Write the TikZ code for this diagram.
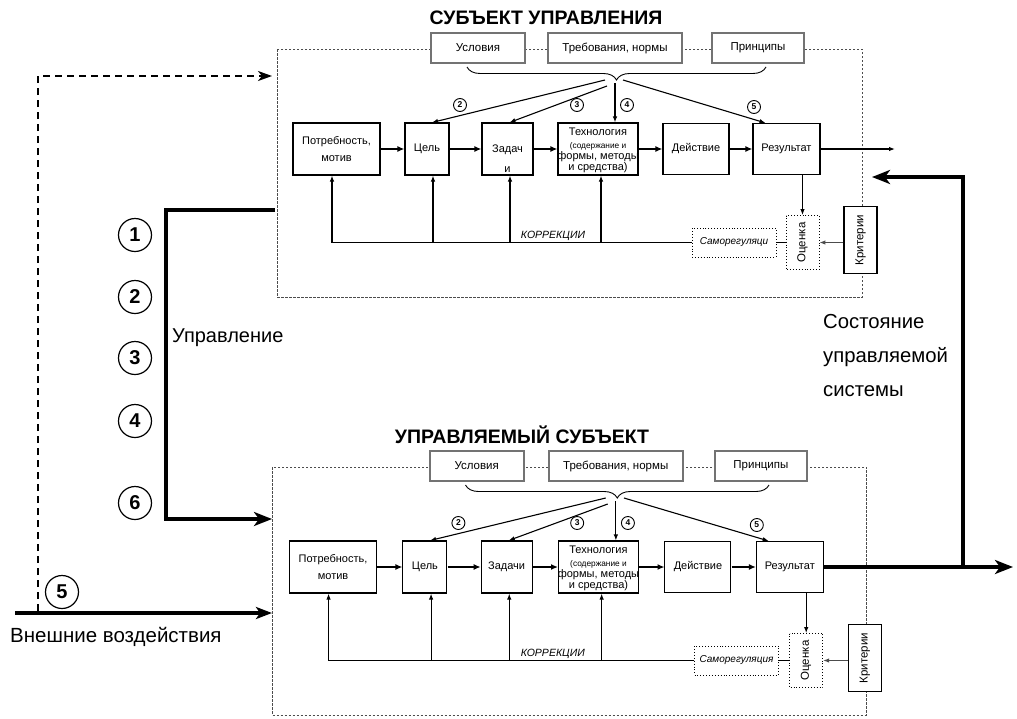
\documentclass[tikz,border=0pt]{standalone}
\usepackage{fontspec}
\setmainfont{Liberation Sans}
\usetikzlibrary{arrows.meta,decorations.pathreplacing,calc}
\newcommand\fsz[1]{\fontsize{#1}{#1}\selectfont}
\tikzset{
 sysframe/.style={draw=black!70, dash pattern=on 2.5pt off 1.5pt, line width=0.8pt},
 normbox/.style={draw=black!55, line width=1.8pt, fill=white, minimum height=30pt, inner sep=0pt, font=\fsz{11.5}},
 blk/.style={draw=black, line width=1.1pt, fill=white, inner sep=1pt, align=center, font=\fsz{11}},
 dotbox/.style={draw=black, dotted, line width=0.9pt, fill=white, inner sep=0pt},
 thickarr/.style={line width=2.6pt, -{Latex[length=7pt,width=6pt]}},
 thinarr/.style={line width=1.1pt, -{Latex[length=6pt,width=4.5pt]}},
 fbline/.style={line width=1.1pt},
 smallnum/.style={circle, draw, line width=0.9pt, inner sep=0pt, minimum size=13pt, font={\fsz{8.5}\bfseries}},
 bignum/.style={circle, draw, line width=1.2pt, inner sep=0pt, minimum size=33pt, font={\fsz{20}\bfseries}},
 bigtxt/.style={font=\fsz{20}, anchor=west, inner sep=0pt},
 heavyarr/.style={line width=4.5pt, line join=miter, -{Stealth[length=18pt,width=14pt,inset=5pt]}},
 dasharr/.style={line width=2pt, dash pattern=on 7pt off 5pt, -{Stealth[length=14pt,width=10pt,inset=4pt]}},
 titletxt/.style={font={\fsz{19.5}\bfseries}},
}
% #1 text of Задачи, #2 its y, #3 text of Саморегуляция
\newcommand\subsys[3]{%
 \draw[sysframe] (277,49) rectangle (862,297);
 \node[normbox, minimum width=94pt] (usl) at (478,48) {Условия};
 \node[normbox, minimum width=134pt] (treb) at (615,48) {Требования, нормы};
 \node[normbox, minimum width=92pt] (princ) at (758,48) {Принципы};
 \draw[line width=0.9pt, decorate, decoration={brace, amplitude=13pt}] (766,67) -- (467,67);
 \node[blk, minimum width=87pt, minimum height=52pt, font={\fontsize{11}{17}\selectfont}] (need) at (336.5,149) {Потребность,\\мотив};
 \node[blk, minimum width=44pt, minimum height=52pt] (goal) at (427,149) {Цель};
 \node[blk, minimum width=51pt, minimum height=52pt] (task) at (507.5,149) {};
 \node[font={\fontsize{11}{20}\selectfont}, align=center, inner sep=0pt] (tasktxt) at (507.5,#2) {#1};
 \node[blk, minimum width=80pt, minimum height=52pt, inner sep=0pt] (tech) at (598,149) {};
 \node[align=center, inner sep=0pt, font=\fsz{11}] (techtxt) at (598,150.5) {Технология\\[2.5pt]\fontsize{8.3}{9.8}\selectfont(содержание и\\формы, методы\\и средства)};
 \node[blk, minimum width=66pt, minimum height=51pt] (act) at (696,149) {Действие};
 \node[blk, minimum width=67pt, minimum height=51pt] (res) at (786.5,149) {Результат};
 \node[dotbox, rotate=90, minimum width=54pt, minimum height=33pt, font=\fsz{11.5}] (eval) at (802.5,242.5) {Оценка};
 \node[blk, rotate=90, minimum width=67pt, minimum height=33pt, font=\fsz{11.5}] (crit) at (860.5,240) {Критерии};
 \node[dotbox, minimum width=84pt, minimum height=29pt, font={\fsz{10}\itshape}] (samo) at (734,242.5) {#3};
 \coordinate (bA) at (605,80);
 \coordinate (bB) at (607,86);
 \coordinate (bC) at (615,83);
 \coordinate (bD) at (623,80);
 \draw[thinarr] (bA) -- ([xshift=5pt]goal.north);
 \draw[thinarr] (bB) -- ([xshift=2pt]task.north);
 \draw[thinarr] (bC) -- (bC |- tech.north);
 \draw[thinarr] (bD) -- ([xshift=-21pt]res.north);
 \node[smallnum] (n2) at (460,105) {2};
 \node[smallnum] (n3) at (577,105) {3};
 \node[smallnum] (n4) at (627,105) {4};
 \node[smallnum] (n5) at (754,107) {5};
 \draw[thickarr] (need) -- (goal);
 \draw[thickarr] (goal) -- (task);
 \draw[thickarr] (task) -- (tech);
 \draw[thickarr] (tech) -- (act);
 \draw[thickarr] (act) -- (res);
 \coordinate (k1) at (332,242.5);
 \coordinate (k2) at (433,242.5);
 \coordinate (k3) at (510,242.5);
 \coordinate (k4) at (601,242.5);
 \draw[fbline] (samo.west) -- (k1);
 \draw[thinarr] (k1) -- (k1 |- need.south);
 \draw[thinarr] (k2) -- (k2 |- goal.south);
 \draw[thinarr] (k3) -- (k3 |- task.south);
 \draw[thinarr] (k4) -- (k4 |- tech.south);
 \node[font={\fsz{10.5}\itshape}] (corr) at (553,236) {КОРРЕКЦИИ};
 \draw[fbline] (samo.east) -- (eval.north);
 \draw[thinarr] (eval.east |- res.south) -- (eval.east);
 \draw[thinarr, draw=black!70] (crit.north |- eval.south) -- (eval.south);
}
\begin{document}
\begin{tikzpicture}[x=1pt,y=-1pt]
\useasboundingbox (0,0) rectangle (1017,718);
\node[titletxt] (ttitle) at (546,18) {СУБЪЕКТ УПРАВЛЕНИЯ};
\node[titletxt] (btitle) at (522,435) {УПРАВЛЯЕМЫЙ СУБЪЕКТ};
\begin{scope}[name prefix=t-]
 \subsys{Задач\\и}{159}{Саморегуляци}
\end{scope}
\begin{scope}[shift={(-8.5,418)}, xscale=1.015, name prefix=b-]
 \subsys{Задачи}{149}{Саморегуляция}
\end{scope}
% top result output
\coordinate (resOutX) at (895,0);
\draw[thinarr] (t-res.east) -- (t-res.east -| resOutX);
% left connectors
\coordinate (dashStart) at (38,611);
\coordinate (dashEnd) at (272,76);
\coordinate (ctrlOut) at (275,210);
\coordinate (ctrlX) at (166,0);
\coordinate (ctrlIn) at (272,519);
\coordinate (extStart) at (15,613);
\coordinate (extEnd) at (272,613);
\draw[dasharr] (dashStart) |- (dashEnd);
\draw[heavyarr] (ctrlOut) -| (ctrlX |- ctrlIn) -- (ctrlIn);
\draw[line width=3.5pt, -{Stealth[length=16pt,width=12pt,inset=4pt]}] (extStart) -- (extEnd);
\node[bignum] (c1) at (135,235) {1};
\node[bignum] (c2) at (135,297) {2};
\node[bignum] (c3) at (135,358) {3};
\node[bignum] (c4) at (135,421) {4};
\node[bignum] (c6) at (135,503) {6};
\node[bignum] (c5) at (62,592) {5};
\node[bigtxt] (upr) at (172,338) {Управление};
\node[bigtxt, font=\fsz{20.5}] (ext) at (10,637) {Внешние воздействия};
% right connectors
\coordinate (outX) at (1013,0);
\coordinate (retX) at (963,0);
\coordinate (retEnd) at (872,177);
\draw[heavyarr] (b-res.east) -- (b-res.east -| outX);
\draw[heavyarr] (b-res.east -| retX) |- (retEnd);
\node[bigtxt, align=left, font={\fontsize{20.3}{34}\selectfont}] (state) at (823,356) {Состояние\\управляемой\\системы};
\end{tikzpicture}
\end{document}
